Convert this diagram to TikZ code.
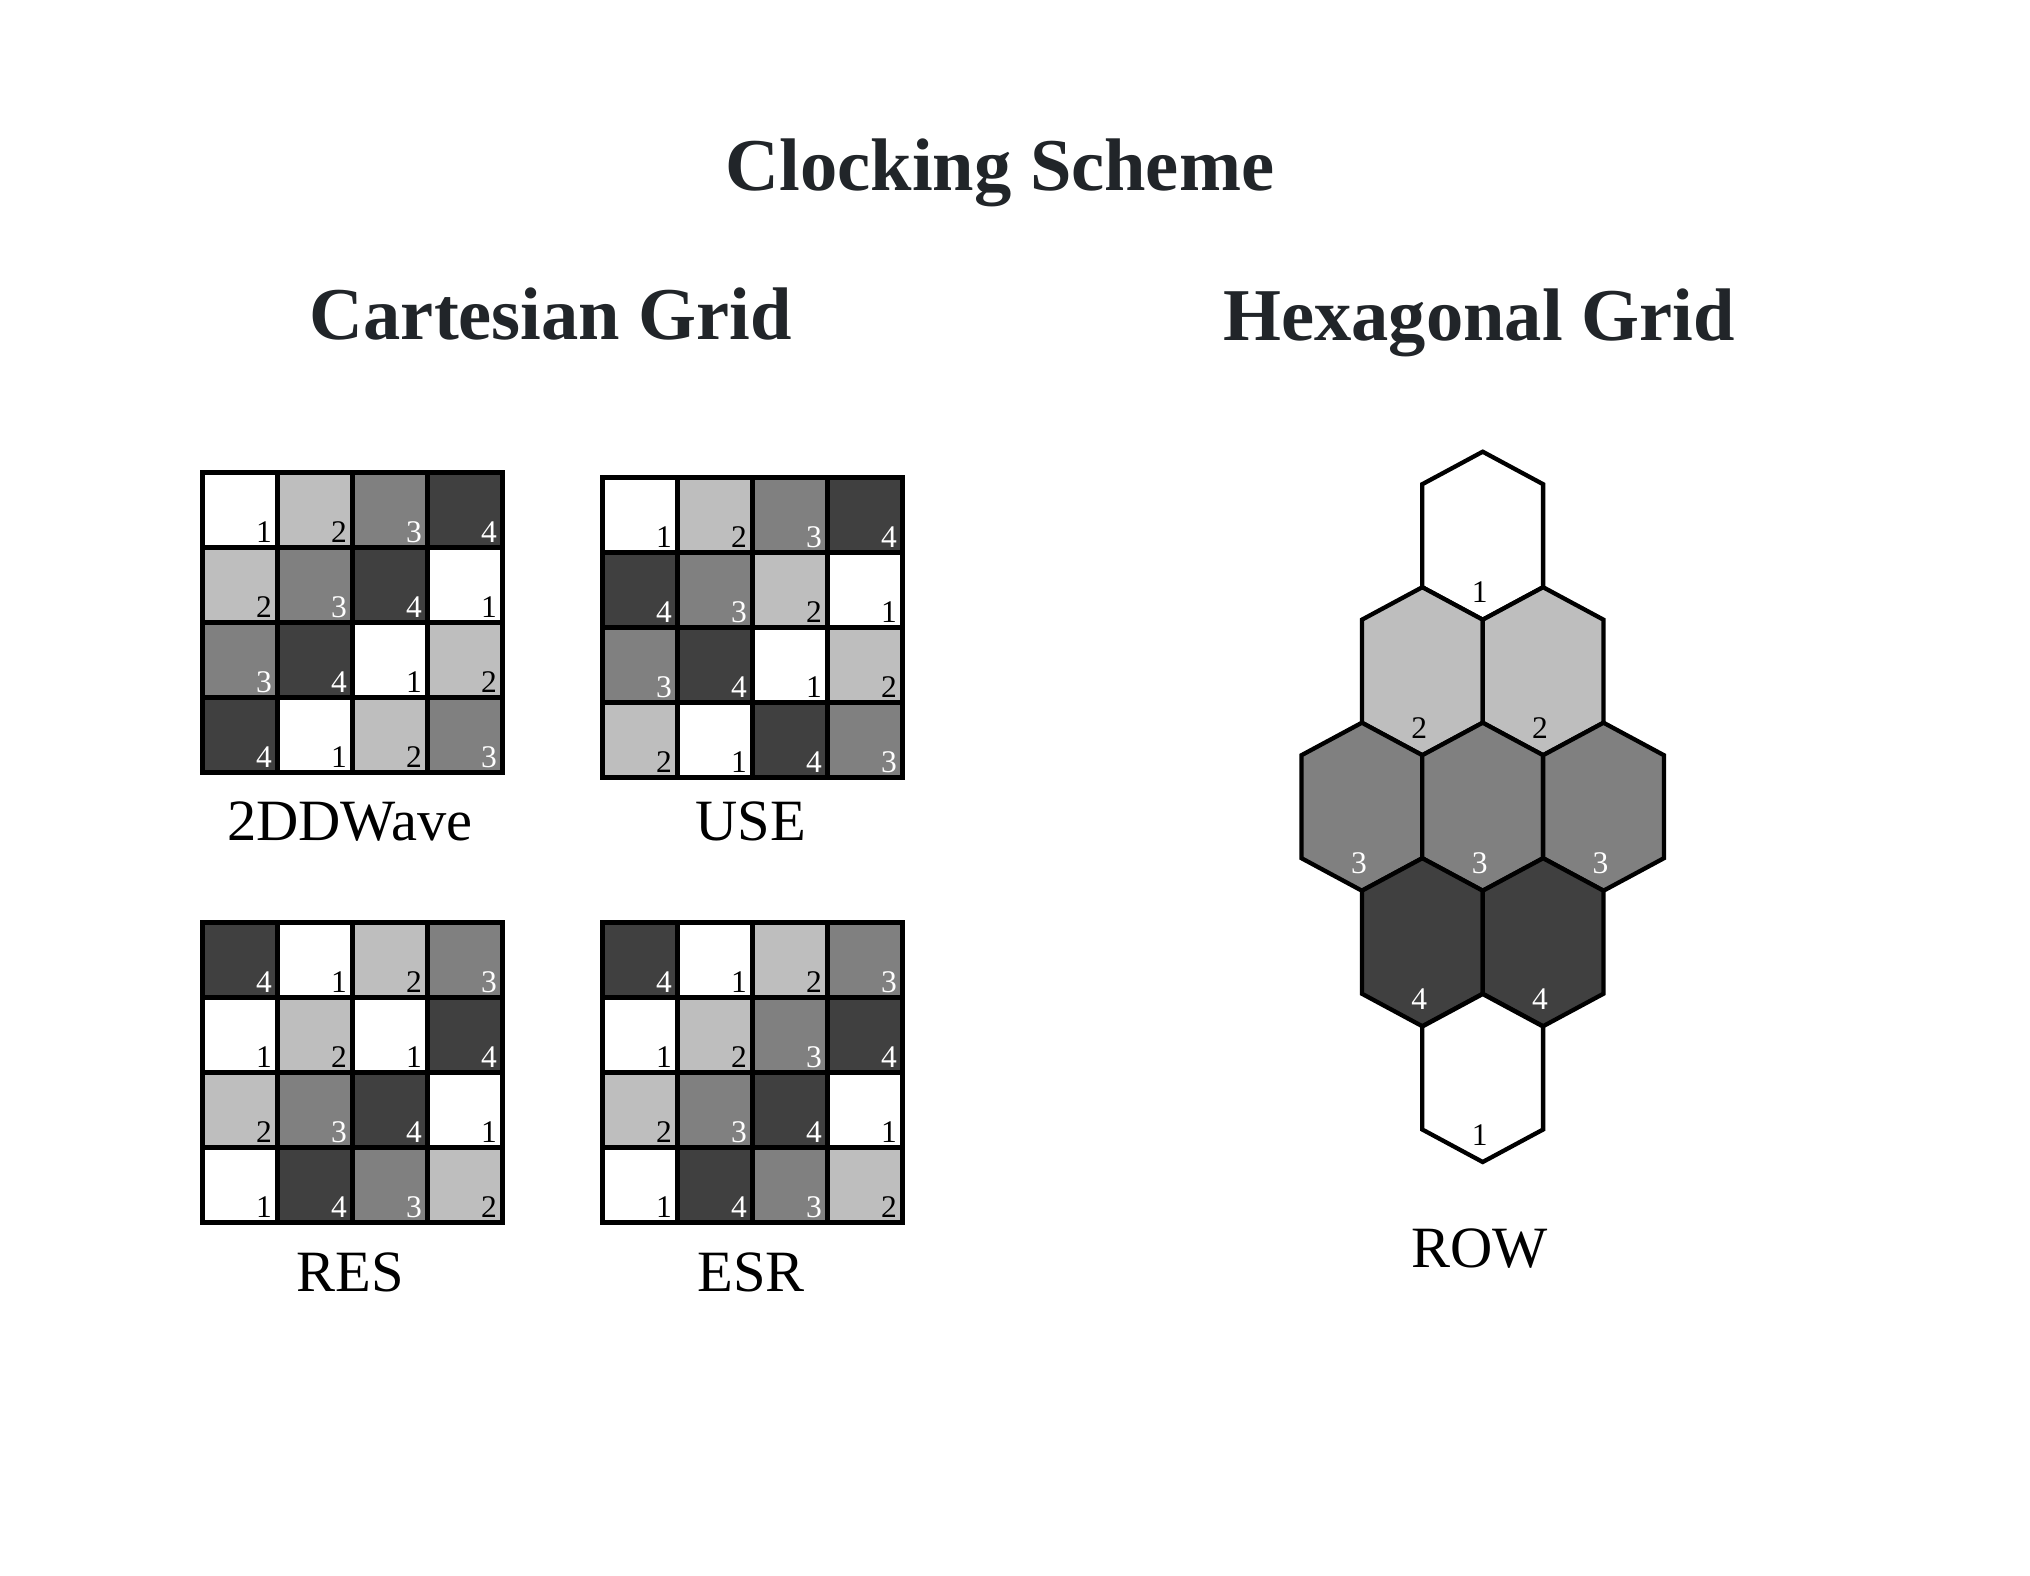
\documentclass[tikz,border=0pt]{standalone}
\usepackage{fontspec}
\setmainfont{Liberation Serif}
\definecolor{lv1}{RGB}{255,255,255}
\definecolor{lv2}{RGB}{190,190,190}
\definecolor{lv3}{RGB}{128,128,128}
\definecolor{lv4}{RGB}{64,64,64}
\definecolor{titlecol}{RGB}{33,37,41}
\tikzset{
  cellbox/.style={draw=black, line width=5pt},
  hexbox/.style={draw=black, line width=4.3pt},
  num/.style={inner sep=0pt, font=\fontsize{31.5}{31}\selectfont},
  numc1/.style={text=black}, numc2/.style={text=black},
  numc3/.style={text=white}, numc4/.style={text=white},
  heading/.style={inner sep=0pt, anchor=base, text=titlecol, font=\fontsize{74.5}{80}\selectfont\bfseries},
  caption/.style={inner sep=0pt, anchor=base, text=black, font=\fontsize{58.5}{60}\selectfont},
}
\newcommand\clockgrid[4]{%
  \foreach \v [count=\i from 0] in {#4} {
    \pgfmathtruncatemacro\rr{\i/4}
    \pgfmathtruncatemacro\cc{mod(\i,4)}
    \pgfmathsetmacro\xx{#2+\cc*75}
    \pgfmathsetmacro\yy{#3+\rr*75}
    \draw[cellbox, fill=lv\v] (\xx,\yy) rectangle ++(75,75);
    \node[num, numc\v, anchor=base east] (#1-\i) at (\xx+69.5,\yy+70) {\v};
  }}
\newcommand\clockhex[4]{%
  \draw[hexbox, fill=lv#4] (#2,#3-84) -- (#2+60.4,#3-51.5) -- (#2+60.4,#3+51.5)
    -- (#2,#3+84) -- (#2-60.4,#3+51.5) -- (#2-60.4,#3-51.5) -- cycle;
  \node[num, numc#4, anchor=base] (#1) at (#2-3,#3+67) {#4};
}
\begin{document}
\begin{tikzpicture}[x=1pt, y=-1pt]
\useasboundingbox[fill=white] (0,0) rectangle (2030,1575);

\node[heading] (title) at (1000,190) {Clocking Scheme};
\node[heading] (cart) at (551,339) {Cartesian Grid};
\node[heading] (hexa) at (1479,340) {Hexagonal Grid};

\clockgrid{ddw}{202.5}{472.5}{1,2,3,4, 2,3,4,1, 3,4,1,2, 4,1,2,3}
\clockgrid{use}{602.5}{477.5}{1,2,3,4, 4,3,2,1, 3,4,1,2, 2,1,4,3}
\clockgrid{res}{202.5}{922.5}{4,1,2,3, 1,2,1,4, 2,3,4,1, 1,4,3,2}
\clockgrid{esr}{602.5}{922.5}{4,1,2,3, 1,2,3,4, 2,3,4,1, 1,4,3,2}

\node[caption] (capddw) at (350,840) {2DDWave};
\node[caption] (capuse) at (751,840) {USE};
\node[caption] (capres) at (350,1291) {RES};
\node[caption] (capesr) at (751,1291) {ESR};

\clockhex{h1}{1482.7}{535.7}{1}
\clockhex{h2a}{1422.3}{671.2}{2}
\clockhex{h2b}{1543.1}{671.2}{2}
\clockhex{h3a}{1361.9}{806.7}{3}
\clockhex{h3b}{1482.7}{806.7}{3}
\clockhex{h3c}{1603.5}{806.7}{3}
\clockhex{h4a}{1422.3}{942.2}{4}
\clockhex{h4b}{1543.1}{942.2}{4}
\clockhex{h5}{1482.7}{1078}{1}

\node[caption] (caprow) at (1479.5,1267) {ROW};
\end{tikzpicture}
\end{document}
